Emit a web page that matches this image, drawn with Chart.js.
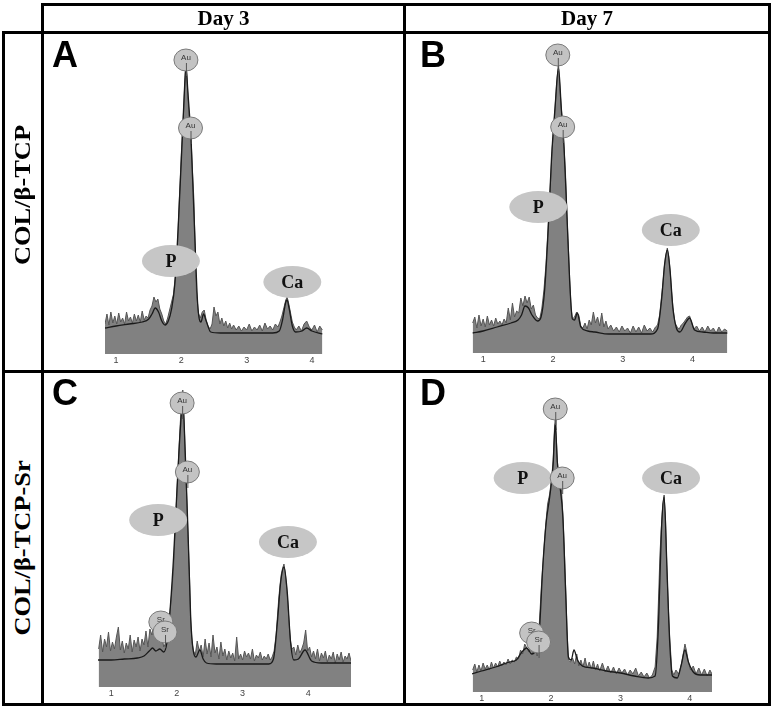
<!DOCTYPE html>
<html>
<head>
<meta charset="utf-8">
<script src="https://cdn.jsdelivr.net/npm/chart.js@4.4.1/dist/chart.umd.min.js"></script>
<style>
  html,body{margin:0;padding:0;background:#fff;}
  #wrap{position:relative;width:774px;height:708px;overflow:hidden;background:#fff;}
  .ln{position:absolute;background:#000;}
  .hdr{position:absolute;top:6px;height:25px;line-height:25px;text-align:center;font:bold 21px "Liberation Serif","Times New Roman",serif;color:#000;}
  .side{position:absolute;white-space:nowrap;font:bold 24px "Liberation Serif","Times New Roman",serif;color:#000;transform:translate(-50%,-50%) rotate(-90deg) scaleX(1.1);}
  .let{position:absolute;font:bold 36px "Liberation Sans",Arial,sans-serif;line-height:36px;color:#000;}
  canvas{position:absolute;}
</style>
</head>
<body>
<div id="wrap">
  <div class="hdr" style="left:44px;width:359px;">Day 3</div>
  <div class="hdr" style="left:406px;width:362px;">Day 7</div>
  <div class="side" style="left:22px;top:195px;">COL/β-TCP</div>
  <div class="side" style="left:22px;top:548px;">COL/β-TCP-Sr</div>
  <div class="let" style="left:52px;top:37px;">A</div>
  <div class="let" style="left:420px;top:37px;">B</div>
  <div class="let" style="left:52px;top:375px;">C</div>
  <div class="let" style="left:420px;top:375px;">D</div>
  <!-- frame lines -->
  <div class="ln" style="left:41px;top:3px;width:730px;height:3px;"></div>
  <div class="ln" style="left:2px;top:31px;width:769px;height:3px;"></div>
  <div class="ln" style="left:2px;top:370px;width:769px;height:3px;"></div>
  <div class="ln" style="left:2px;top:703px;width:769px;height:3px;"></div>
  <div class="ln" style="left:2px;top:31px;width:3px;height:675px;"></div>
  <div class="ln" style="left:41px;top:3px;width:3px;height:703px;"></div>
  <div class="ln" style="left:403px;top:3px;width:3px;height:703px;"></div>
  <div class="ln" style="left:768px;top:3px;width:3px;height:703px;"></div>
</div>
<script>
// ---------- tick labels (keV) ----------
const tickValues = [1, 2, 3, 4];

// ---------- Panel A : COL/β-TCP, Day 3 ----------
const energyA = [
  0.83,0.86,0.89,0.92,0.95,0.98,1.01,1.04,1.07,1.10,
  1.13,1.16,1.19,1.22,1.25,1.28,1.31,1.34,1.37,1.40,
  1.43,1.46,1.49,1.52,1.55,1.58,1.61,1.64,1.67,1.70,
  1.73,1.76,1.79,1.82,1.85,1.88,1.91,1.94,1.97,2.00,
  2.03,2.05,2.07,2.09,2.11,2.13,2.15,2.17,2.19,2.21,
  2.23,2.26,2.29,2.32,2.35,2.38,2.41,2.44,2.47,2.50,
  2.53,2.56,2.59,2.62,2.65,2.68,2.71,2.74,2.77,2.80,
  2.84,2.88,2.92,2.96,3.00,3.04,3.08,3.12,3.16,3.20,
  3.24,3.28,3.32,3.36,3.40,3.44,3.48,3.51,3.54,3.57,
  3.60,3.62,3.64,3.67,3.70,3.73,3.76,3.80,3.84,3.88,
  3.92,3.96,4.00,4.04,4.08,4.12,4.16];
const countsA = [
  30,40,29,42,31,38,30,41,32,36,
  30,42,33,37,31,40,33,39,32,43,
  34,38,36,44,48,57,52,55,45,40,
  33,30,36,44,52,60,80,107,157,201,
  237,267,292,271,247,227,214,184,157,111,
  64,41,36,42,44,34,28,25,30,47,
  38,42,30,36,28,33,26,31,25,29,
  24,28,23,27,24,30,23,27,24,29,
  23,31,25,28,24,30,27,32,38,46,
  54,57,52,42,32,27,24,28,23,30,
  33,27,24,29,22,28,24];
const fitEnergyA = [
  0.83,1.00,1.20,1.40,1.50,1.55,1.60,1.65,1.70,1.75,
  1.80,1.85,1.90,1.95,2.00,2.05,2.07,2.10,2.15,2.20,
  2.25,2.30,2.34,2.38,2.45,2.60,2.80,3.00,3.20,3.40,
  3.50,3.55,3.60,3.62,3.65,3.70,3.75,3.85,3.92,4.00,
  4.16];
const fitA = [
  26,28,30,32,35,40,46,42,33,29,
  33,45,70,125,195,268,288,262,212,128,
  50,32,40,33,22,21,21,21,21,21,
  23,34,52,54,46,28,22,23,26,23,
  20];
const peakLabelsA = ['P','Ca','Au','Au'];
const peakEnergyA = [1.84, 3.70, 2.07, 2.14];
const peakLevelA  = [93, 72, 294, 226];

// ---------- Panel B : COL/β-TCP, Day 7 ----------
const energyB = [
  0.85,0.88,0.91,0.94,0.97,1.00,1.03,1.06,1.09,1.12,
  1.15,1.18,1.21,1.24,1.27,1.30,1.33,1.36,1.39,1.42,
  1.45,1.48,1.51,1.54,1.57,1.60,1.63,1.66,1.69,1.72,
  1.75,1.78,1.81,1.84,1.87,1.90,1.93,1.96,1.99,2.02,
  2.04,2.06,2.08,2.10,2.12,2.14,2.16,2.18,2.20,2.22,
  2.24,2.26,2.28,2.31,2.34,2.37,2.40,2.43,2.46,2.49,
  2.52,2.55,2.58,2.61,2.64,2.67,2.70,2.73,2.76,2.79,
  2.83,2.87,2.91,2.95,2.99,3.03,3.07,3.11,3.15,3.19,
  3.23,3.27,3.31,3.35,3.39,3.43,3.47,3.50,3.53,3.56,
  3.58,3.60,3.62,3.64,3.66,3.68,3.70,3.72,3.75,3.78,
  3.81,3.84,3.87,3.90,3.93,3.96,3.99,4.02,4.06,4.10,
  4.14,4.18,4.22,4.26,4.30,4.34,4.38,4.42,4.46,4.50];
const countsB = [
  30,36,25,38,27,34,26,37,28,33,
  27,35,29,32,28,34,30,45,33,50,
  36,42,40,55,47,57,50,56,44,48,
  38,35,34,44,62,88,125,163,205,233,
  255,275,289,265,245,228,205,180,140,108,
  75,45,34,36,41,38,27,25,30,24,
  33,28,41,30,36,27,40,26,32,24,
  28,22,26,21,27,22,25,20,27,21,
  26,20,28,22,25,21,26,28,38,58,
  72,88,98,105,97,83,62,46,30,26,
  24,28,30,33,36,37,30,24,27,22,
  26,21,27,22,25,20,26,21,24,22];
const fitEnergyB = [
  0.85,1.00,1.20,1.40,1.50,1.55,1.60,1.65,1.70,1.78,
  1.83,1.88,1.93,1.98,2.03,2.08,2.12,2.16,2.20,2.24,
  2.28,2.31,2.35,2.40,2.50,2.60,2.80,3.00,3.20,3.40,
  3.50,3.56,3.60,3.64,3.68,3.72,3.77,3.82,3.90,3.96,
  4.03,4.15,4.30,4.50];
const fitB = [
  20,22,26,30,33,38,47,45,38,32,
  36,62,120,195,245,285,245,205,140,72,
  34,33,40,26,22,21,19,19,19,19,
  24,55,88,103,82,45,25,21,30,35,
  23,21,20,20];
const peakLabelsB = ['P','Ca','Au','Au'];
const peakEnergyB = [1.79, 3.69, 2.07, 2.14];
const peakLevelB  = [146, 123, 298, 226];

// ---------- Panel C : COL/β-TCP-Sr, Day 3 ----------
const energyC = [
  0.81,0.84,0.87,0.90,0.93,0.96,0.99,1.02,1.05,1.08,
  1.11,1.14,1.17,1.20,1.23,1.26,1.29,1.32,1.35,1.38,
  1.41,1.44,1.47,1.50,1.53,1.56,1.59,1.62,1.65,1.68,
  1.71,1.74,1.77,1.80,1.83,1.86,1.89,1.92,1.95,1.98,
  2.01,2.03,2.05,2.07,2.09,2.11,2.13,2.15,2.17,2.19,
  2.21,2.23,2.25,2.28,2.31,2.34,2.37,2.40,2.43,2.46,
  2.49,2.52,2.55,2.58,2.61,2.64,2.67,2.70,2.73,2.76,
  2.79,2.82,2.85,2.88,2.91,2.94,2.97,3.00,3.03,3.06,
  3.09,3.12,3.15,3.18,3.21,3.24,3.27,3.30,3.33,3.36,
  3.39,3.42,3.45,3.48,3.51,3.53,3.55,3.57,3.59,3.61,
  3.63,3.65,3.67,3.69,3.71,3.73,3.75,3.78,3.81,3.84,
  3.87,3.90,3.93,3.96,3.99,4.02,4.05,4.08,4.11,4.14,
  4.17,4.20,4.23,4.26,4.29,4.32,4.35,4.38,4.41,4.44,
  4.47,4.50,4.53,4.56,4.59,4.62,4.65];
const countsC = [
  38,52,35,48,40,55,36,45,38,50,
  60,37,46,34,44,38,52,35,47,40,
  50,36,48,42,56,40,58,52,63,48,
  60,45,52,40,44,50,70,93,120,165,
  207,235,262,283,297,267,225,190,150,117,
  67,45,37,32,46,36,42,30,48,33,
  44,30,52,34,40,28,45,31,38,27,
  36,29,34,26,50,28,33,27,36,30,
  34,28,38,26,32,29,35,27,31,28,
  33,27,30,36,52,70,88,102,113,119,
  123,114,100,82,62,46,38,40,32,42,
  34,38,44,57,36,40,30,36,28,38,
  26,34,29,36,25,32,28,35,24,33,
  27,35,25,31,28,34,26];
const fitEnergyC = [
  0.80,1.00,1.20,1.40,1.50,1.58,1.63,1.68,1.74,1.80,
  1.85,1.90,1.95,2.00,2.05,2.09,2.13,2.17,2.21,2.25,
  2.29,2.35,2.40,2.45,2.60,2.80,3.00,3.20,3.40,3.47,
  3.53,3.58,3.63,3.68,3.73,3.78,3.85,3.95,4.05,4.20,
  4.40,4.65];
const fitC = [
  27,27,28,29,31,36,39,36,38,35,
  45,80,130,195,255,285,230,155,70,36,
  30,37,28,24,23,23,23,23,23,28,
  65,105,120,95,45,27,28,37,26,24,
  24,24];
const peakLabelsC = ['P','Ca','Sr','Sr','Au','Au'];
const peakEnergyC = [1.715, 3.69, 1.756, 1.82, 2.08, 2.16];
const peakLevelC  = [167, 145, 65, 55, 284, 215];

// ---------- Panel D : COL/β-TCP-Sr, Day 7 ----------
const energyD = [
  0.87,0.90,0.93,0.96,0.99,1.02,1.05,1.08,1.11,1.14,
  1.17,1.20,1.23,1.26,1.29,1.32,1.35,1.38,1.41,1.44,
  1.47,1.50,1.53,1.56,1.59,1.62,1.65,1.68,1.71,1.74,
  1.77,1.80,1.83,1.86,1.89,1.92,1.95,1.98,2.01,2.03,
  2.05,2.06,2.07,2.09,2.11,2.13,2.15,2.17,2.19,2.21,
  2.23,2.25,2.28,2.31,2.34,2.37,2.40,2.43,2.46,2.49,
  2.52,2.55,2.58,2.61,2.64,2.67,2.70,2.74,2.78,2.82,
  2.86,2.90,2.94,2.98,3.02,3.06,3.10,3.14,3.18,3.22,
  3.26,3.30,3.34,3.38,3.42,3.46,3.50,3.53,3.55,3.57,
  3.59,3.61,3.63,3.65,3.67,3.69,3.71,3.74,3.77,3.80,
  3.84,3.88,3.91,3.93,3.95,3.98,4.01,4.05,4.09,4.13,
  4.17,4.21,4.25,4.29,4.32];
const countsD = [
  22,28,20,27,21,29,23,27,22,30,
  24,29,25,31,26,30,27,33,28,32,
  30,35,33,42,38,48,44,40,46,38,
  44,36,68,105,135,165,188,198,215,232,
  265,272,262,232,212,207,202,178,145,105,
  62,32,30,34,28,38,26,32,25,34,
  24,30,23,31,22,28,21,29,20,26,
  19,25,18,24,19,23,17,22,18,24,
  16,20,15,19,14,17,25,55,95,138,
  165,188,197,172,122,85,55,22,17,22,
  18,28,40,48,42,30,22,26,18,24,
  17,23,16,22,18];
const fitEnergyD = [
  0.86,1.00,1.20,1.40,1.50,1.58,1.65,1.72,1.78,1.83,
  1.88,1.93,1.98,2.03,2.06,2.09,2.13,2.17,2.21,2.25,
  2.29,2.33,2.38,2.45,2.60,2.80,3.00,3.20,3.40,3.50,
  3.55,3.59,3.63,3.67,3.71,3.75,3.82,3.88,3.93,3.98,
  4.05,4.15,4.32];
const fitD = [
  18,21,25,30,32,40,44,38,42,60,
  125,170,195,228,268,230,205,175,100,35,
  32,42,32,26,24,21,19,16,14,16,
  70,160,195,125,50,16,14,28,42,30,
  20,17,17];
const peakLabelsD = ['P','Ca','Sr','Sr','Au','Au'];
const peakEnergyD = [1.59, 3.73, 1.72, 1.82, 2.06, 2.16];
const peakLevelD  = [214, 214, 59, 50, 283, 214];

// ---------- layout (pixel geometry of each plot area) ----------
const layoutA = {plotLeft:105, plotRight:323, baseline:354, min:0.83, max:4.17};
const layoutB = {plotLeft:472, plotRight:728, baseline:353, min:0.84, max:4.51};
const layoutC = {plotLeft:98,  plotRight:351, baseline:687, min:0.80, max:4.65};
const layoutD = {plotLeft:472, plotRight:712, baseline:692, min:0.86, max:4.32};
const Y_MAX = 300, PAD = 60, TOP = 30, AXIS_H = 14;

const panels = [
  {E:energyA, C:countsA, FE:fitEnergyA, F:fitA, LT:peakLabelsA, LE:peakEnergyA, LV:peakLevelA, L:layoutA},
  {E:energyB, C:countsB, FE:fitEnergyB, F:fitB, LT:peakLabelsB, LE:peakEnergyB, LV:peakLevelB, L:layoutB},
  {E:energyC, C:countsC, FE:fitEnergyC, F:fitC, LT:peakLabelsC, LE:peakEnergyC, LV:peakLevelC, L:layoutC},
  {E:energyD, C:countsD, FE:fitEnergyD, F:fitD, LT:peakLabelsD, LE:peakEnergyD, LV:peakLevelD, L:layoutD}
];

function makeLabelPlugin(p){
  return {
    id:'peakLabels',
    afterDraw(chart){
      const ctx = chart.ctx, xs = chart.scales.x, ys = chart.scales.y;
      p.LT.forEach((t,i)=>{
        const cx = xs.getPixelForValue(p.LE[i]);
        const cy = ys.getPixelForValue(p.LV[i]);
        const big = (t==='P' || t==='Ca');
        const rx = big ? 29 : 12, ry = big ? 16 : 11;
        ctx.save();
        ctx.beginPath();
        ctx.ellipse(cx, cy, rx, ry, 0, 0, Math.PI*2);
        ctx.fillStyle = big ? '#c6c6c6' : '#c3c3c3';
        ctx.fill();
        if(!big){
          ctx.lineWidth = 1; ctx.strokeStyle = '#7a7a7a'; ctx.stroke();
          ctx.beginPath(); ctx.moveTo(cx+0.5, cy+3); ctx.lineTo(cx+0.5, cy+ry+5);
          ctx.strokeStyle = '#555'; ctx.stroke();
        }
        ctx.fillStyle = big ? '#111' : '#333';
        ctx.font = big ? 'bold 18px "Liberation Serif", serif' : '8px "Liberation Sans", Arial, sans-serif';
        ctx.textAlign = 'center';
        ctx.textBaseline = 'middle';
        ctx.fillText(t, cx, big ? cy+1 : cy-2);
        ctx.restore();
      });
    }
  };
}

const wrap = document.getElementById('wrap');
panels.forEach(p=>{
  const L = p.L;
  const cv = document.createElement('canvas');
  const w = L.plotRight - L.plotLeft + 2*PAD;
  const h = Y_MAX + TOP + 30;
  cv.width = w; cv.height = h;
  cv.style.left = (L.plotLeft - PAD) + 'px';
  cv.style.top = (L.baseline - Y_MAX - TOP) + 'px';
  cv.style.width = w + 'px'; cv.style.height = h + 'px';
  wrap.insertBefore(cv, wrap.firstChild);
  new Chart(cv, {
    type:'line',
    data:{
      datasets:[
        {data:p.FE.map((e,i)=>({x:e, y:p.F[i]})), borderColor:'#1a1a1a', borderWidth:1.3,
         fill:false, pointRadius:0, cubicInterpolationMode:'monotone', order:0},
        {data:p.E.map((e,i)=>({x:e, y:p.C[i]})), borderColor:'#555555', borderWidth:1,
         backgroundColor:'#818181', fill:'origin', pointRadius:0, tension:0, order:1}
      ]
    },
    options:{
      responsive:false, animation:false, devicePixelRatio:1,
      layout:{padding:{left:PAD, right:PAD, top:TOP, bottom:30-AXIS_H}},
      plugins:{legend:{display:false}, tooltip:{enabled:false}},
      scales:{
        x:{type:'linear', min:L.min, max:L.max,
           grid:{display:false, drawTicks:false}, border:{display:false},
           afterBuildTicks:s=>{ s.ticks = tickValues.map(v=>({value:v})); },
           afterFit:s=>{ s.height = AXIS_H; },
           ticks:{autoSkip:false, maxRotation:0, padding:1, color:'#444',
                  font:{size:9, family:'"Liberation Sans", Arial, sans-serif'},
                  callback:v=>String(v)}},
        y:{display:false, min:0, max:Y_MAX}
      }
    },
    plugins:[makeLabelPlugin(p)]
  });
});
</script>
</body>
</html>
